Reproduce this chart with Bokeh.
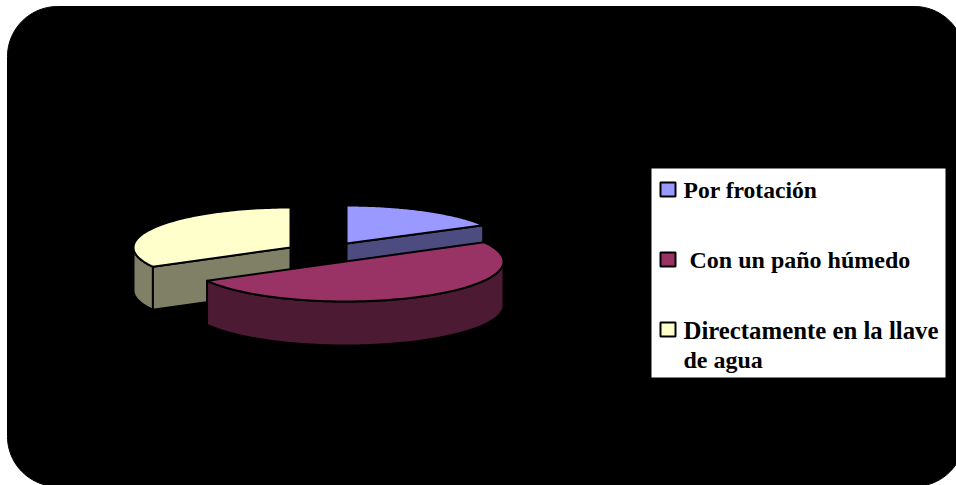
import math
from bokeh.plotting import figure
from bokeh.models import Range1d
from bokeh.core.properties import value
from bokeh.embed import file_html
from bokeh.resources import INLINE

# Share of each answer, in percent
categories = ["Por frotación", "Con un paño húmedo", "Directamente en la llave de agua"]
legend_lines = ["Por frotación", "Con un paño húmedo", "Directamente en la llave", "de agua"]
shares = [17, 50, 33]
top_colors = ["#9999FF", "#993366", "#FFFFCC"]
wall_colors = ["#4C4C80", "#4D1A33", "#808066"]

W, H = 956, 485
# Exploded centre, radii and wall height of each slice on the page
centers = [(346, 243), (345, 261), (290, 247)]
radii = [(156, 38), (158, 40), (157, 40)]
depths = [42, 44, 43]

p = figure(width=W, height=H, output_backend="svg", toolbar_location=None,
           x_range=Range1d(0, W), y_range=Range1d(H, 0), min_border=0,
           outline_line_color=None, background_fill_color="white",
           border_fill_color="white")
p.xaxis.visible = False
p.yaxis.visible = False
p.grid.visible = False


def corner(cx, cy, r, a0, a1, n=24):
    return [(cx + r * math.cos(math.radians(a0 + (a1 - a0) * i / n)),
             cy + r * math.sin(math.radians(a0 + (a1 - a0) * i / n))) for i in range(n + 1)]


# Rounded black panel behind the pie
L, T, R, B, RAD = 7, 6, 964, 486, 50
panel = (corner(L + RAD, T + RAD, RAD, 180, 270) + corner(R - RAD, T + RAD, RAD, 270, 360)
         + corner(R - RAD, B - RAD, RAD, 0, 90) + corner(L + RAD, B - RAD, RAD, 90, 180))
p.patch([q[0] for q in panel], [q[1] for q in panel], fill_color="black", line_color="black")


def rim(i, a0, a1, drop=0, n=90):
    """Points on a slice's ellipse; angles run clockwise from twelve o'clock."""
    cx, cy = centers[i]
    rx, ry = radii[i]
    pts = []
    for k in range(n + 1):
        a = math.radians(a0 + (a1 - a0) * k / n)
        pts.append((cx + rx * math.sin(a), cy - ry * math.cos(a) + drop))
    return pts


# Slice spans derived from the shares
spans = []
start = 0.0
for s in shares:
    spans.append((start, start + 360.0 * s / sum(shares)))
    start = spans[-1][1]


def draw_poly(pts, fill):
    p.patch([q[0] for q in pts], [q[1] for q in pts], fill_color=fill,
            line_color="black", line_width=2, line_join="round")


def cut_wall(i, angle):
    """Flat wall from the slice apex to its rim, seen from the front."""
    cx, cy = centers[i]
    ex, ey = rim(i, angle, angle, n=1)[0]
    d = depths[i]
    return [(cx, cy), (ex, ey), (ex, ey + d), (cx, cy + d)]


def outer_wall(i, a0, a1):
    return rim(i, a0, a1) + rim(i, a0, a1, depths[i])[::-1]


# Back slices first, so that the front slice covers their lower walls
draw_poly(cut_wall(0, spans[0][1]), wall_colors[0])
draw_poly(outer_wall(2, spans[2][0], 270), wall_colors[2])
draw_poly(cut_wall(2, spans[2][0]), wall_colors[2])
draw_poly(outer_wall(1, 90, spans[1][1]), wall_colors[1])

for i in (0, 2, 1):
    draw_poly([centers[i]] + rim(i, *spans[i]), top_colors[i])

# Legend box
p.quad(left=[651], right=[945], top=[168], bottom=[377], fill_color="white", line_color=None)
p.quad(left=[660, 660, 660], right=[675, 675, 675], top=[182, 252, 322], bottom=[196, 266, 336],
       fill_color=top_colors, line_color="black", line_width=2)

# One size per line so that each line fills its legend width
for label, x, y, size in zip(legend_lines, [683, 689, 683, 683], [189, 259, 330, 359],
                             ["23.6px", "24px", "24.8px", "24px"]):
    p.text(x=[x], y=[y], text=[label], text_font=value("Liberation Serif"),
           text_font_style="bold", text_font_size=value(size), text_color="black",
           text_baseline="alphabetic", text_align="left")

open("out.html", "w").write(file_html(p, INLINE))
